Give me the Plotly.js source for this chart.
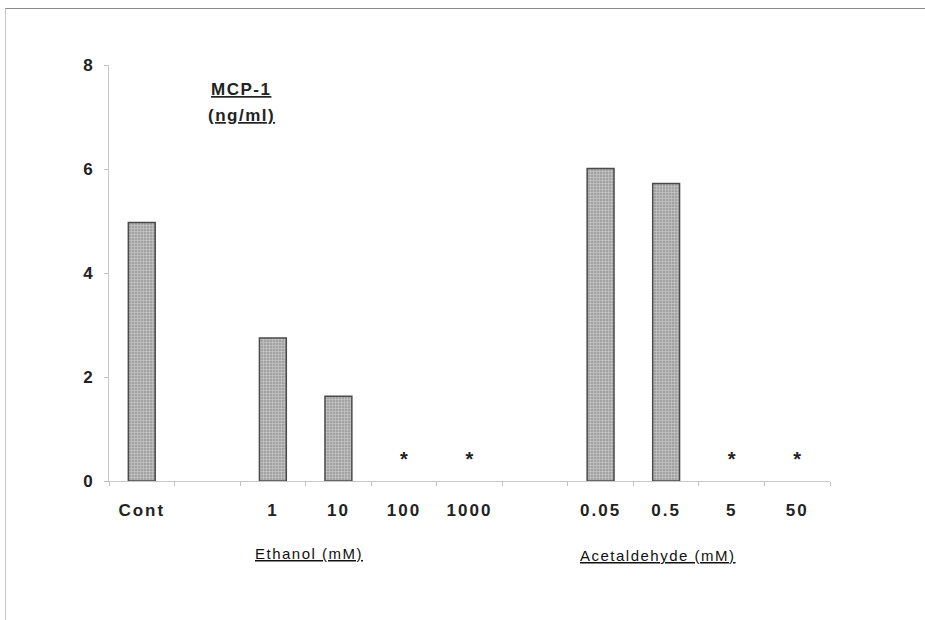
<!DOCTYPE html>
<html>
<head>
<meta charset="utf-8">
<script src="https://cdn.plot.ly/plotly-3.0.1.min.js"></script>
<style>
  html, body { margin: 0; padding: 0; background: #ffffff; }
  #wrap { position: relative; width: 925px; height: 620px; }
  #chart { width: 925px; height: 620px; }
  #frame { position: absolute; left: 5px; top: 8px; right: 0; bottom: 0;
           border-top: 1px solid #8a8a8a; border-left: 1px solid #c4c4c4;
           pointer-events: none; z-index: 5; }
  .xtick text { letter-spacing: 2px; }
  .annotation-text { letter-spacing: 1.5px; }
</style>
</head>
<body>
<div id="wrap">
  <div id="chart"></div>
  <div id="frame"></div>
</div>
<script>
// Categories along the x axis (blank strings are the gaps between groups)
const categories = ['Cont', ' ', '1', '10', '100', '1000', '  ', '0.05', '0.5', '5', '50'];
// MCP-1 (ng/ml); null = no bar drawn
const mcp1 = [4.97, null, 2.75, 1.63, null, null, null, 6.01, 5.72, null, null];
// Conditions marked with an asterisk
const significant = ['100', '1000', '5', '50'];
// Group labels
const groupLabels = ['Ethanol (mM)', 'Acetaldehyde (mM)'];
const groupCenters = [2.55, 7.88];
const yTitleLines = ['MCP-1', '(ng/ml)'];

const starLevel = 0.38;
const fontFam = 'Liberation Sans, Arial, Helvetica, sans-serif';

const bars = {
  type: 'bar',
  x: categories,
  y: mcp1,
  width: 0.41,
  marker: {
    color: '#a2a2a2',
    line: { color: '#4a4a4a', width: 1.5 },
    pattern: { shape: '+', size: 3, solidity: 0.35, fgcolor: '#f4f4f4', bgcolor: '#a2a2a2', fillmode: 'overlay' }
  },
  hoverinfo: 'skip',
  showlegend: false
};

const stars = {
  type: 'scatter',
  mode: 'text',
  x: significant,
  y: significant.map(() => starLevel),
  text: significant.map(() => '*'),
  textposition: 'middle center',
  textfont: { family: fontFam, size: 20, color: '#222', weight: 700 },
  hoverinfo: 'skip',
  showlegend: false
};

const ul = s => '<span style="text-decoration:underline">' + s + '</span>';

const annotations = [
  { xref: 'x', yref: 'y', x: 1.52, y: 7.53, text: ul(yTitleLines[0]), showarrow: false,
    font: { family: fontFam, size: 17, color: '#222', weight: 700 }, xanchor: 'center', yanchor: 'middle' },
  { xref: 'x', yref: 'y', x: 1.52, y: 7.03, text: ul(yTitleLines[1]), showarrow: false,
    font: { family: fontFam, size: 17, color: '#222', weight: 700 }, xanchor: 'center', yanchor: 'middle' }
];
const groupY = [-0.174, -0.179];
groupLabels.forEach((g, i) => {
  annotations.push({ xref: 'x', yref: 'paper', x: groupCenters[i], y: groupY[i],
    text: ul(g), showarrow: false, xanchor: 'center', yanchor: 'middle',
    font: { family: fontFam, size: 15, color: '#111' } });
});

const layout = {
  width: 925, height: 620,
  margin: { l: 109, r: 95, t: 65, b: 139 },
  paper_bgcolor: '#ffffff', plot_bgcolor: '#ffffff',
  bargap: 0,
  xaxis: {
    type: 'category', categoryorder: 'array', categoryarray: categories,
    range: [-0.5, 10.5], fixedrange: true,
    showline: true, linecolor: '#c8c8c8', linewidth: 1,
    showgrid: false, zeroline: false,
    tickson: 'boundaries', ticks: 'outside', ticklen: 4, tickcolor: '#c0c0c0', tickwidth: 1,
    ticklabelstandoff: 14,
    tickfont: { family: fontFam, size: 17, color: '#222', weight: 700 }
  },
  yaxis: {
    range: [0, 8], dtick: 2, fixedrange: true,
    showline: true, linecolor: '#c8c8c8', linewidth: 1,
    showgrid: false, zeroline: false,
    ticks: 'outside', ticklen: 4, tickcolor: '#c0c0c0', tickwidth: 1,
    ticklabelstandoff: 8,
    tickfont: { family: fontFam, size: 17, color: '#222', weight: 700 }
  },
  annotations: annotations,
  showlegend: false
};

Plotly.newPlot('chart', [bars, stars], layout, { displayModeBar: false, staticPlot: true });
</script>
</body>
</html>
